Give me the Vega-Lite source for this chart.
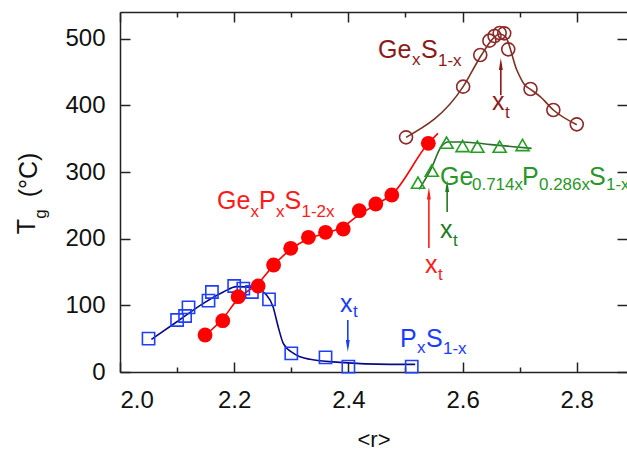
{
  "$schema": "https://vega.github.io/schema/vega-lite/v6.json",
  "width": 507,
  "height": 360,
  "autosize": "none",
  "padding": {"left": 120, "top": 12, "right": 0, "bottom": 80},
  "background": "white",
  "config": {
    "view": {"stroke": null},
    "axis": {"labelFont": "Liberation Sans", "titleFont": "Liberation Sans", "grid": false, "domainColor": "#222", "tickColor": "#222", "labelColor": "#111", "titleColor": "#111", "domainWidth": 1.5, "tickWidth": 1.5},
    "text": {"font": "Liberation Sans"}
  },
  "datasets": {
    "navy": [
      {"r": 2.055, "T": 49}, {"r": 2.099, "T": 75}, {"r": 2.146, "T": 103}, {"r": 2.181, "T": 120},
      {"r": 2.204, "T": 128}, {"r": 2.233, "T": 127}, {"r": 2.257, "T": 115}, {"r": 2.268, "T": 98},
      {"r": 2.277, "T": 68}, {"r": 2.286, "T": 43}, {"r": 2.304, "T": 28}, {"r": 2.333, "T": 19},
      {"r": 2.385, "T": 14.5}, {"r": 2.473, "T": 11.5}, {"r": 2.517, "T": 11.5}
    ],
    "redline": [
      {"r": 2.149, "T": 55}, {"r": 2.18, "T": 80}, {"r": 2.207, "T": 110}, {"r": 2.242, "T": 133},
      {"r": 2.269, "T": 160}, {"r": 2.299, "T": 184}, {"r": 2.33, "T": 200}, {"r": 2.36, "T": 208},
      {"r": 2.391, "T": 218}, {"r": 2.419, "T": 236}, {"r": 2.448, "T": 251}, {"r": 2.476, "T": 266},
      {"r": 2.54, "T": 343}, {"r": 2.557, "T": 358}
    ],
    "greenline": [
      {"r": 2.524, "T": 274}, {"r": 2.545, "T": 305}, {"r": 2.562, "T": 337}, {"r": 2.575, "T": 345},
      {"r": 2.6, "T": 345}, {"r": 2.65, "T": 341}, {"r": 2.721, "T": 335.5}
    ],
    "brownline": [
      {"r": 2.501, "T": 352}, {"r": 2.601, "T": 428}, {"r": 2.632, "T": 474}, {"r": 2.652, "T": 499},
      {"r": 2.665, "T": 507}, {"r": 2.675, "T": 503}, {"r": 2.695, "T": 453}, {"r": 2.709, "T": 430.5},
      {"r": 2.719, "T": 424}, {"r": 2.736, "T": 413}, {"r": 2.759, "T": 393}, {"r": 2.8, "T": 371}
    ],
    "squares": [
      {"r": 2.05, "T": 50}, {"r": 2.1, "T": 78}, {"r": 2.114, "T": 84}, {"r": 2.12, "T": 97},
      {"r": 2.155, "T": 107}, {"r": 2.161, "T": 120}, {"r": 2.2, "T": 129}, {"r": 2.216, "T": 125},
      {"r": 2.231, "T": 120}, {"r": 2.261, "T": 109}, {"r": 2.3, "T": 28}, {"r": 2.36, "T": 22},
      {"r": 2.4, "T": 8}, {"r": 2.511, "T": 8}
    ],
    "redcircles": [
      {"r": 2.149, "T": 55.5}, {"r": 2.18, "T": 77}, {"r": 2.207, "T": 113}, {"r": 2.242, "T": 129},
      {"r": 2.269, "T": 160.5}, {"r": 2.299, "T": 185.5}, {"r": 2.33, "T": 202}, {"r": 2.36, "T": 209.5},
      {"r": 2.391, "T": 214.5}, {"r": 2.419, "T": 242}, {"r": 2.448, "T": 252}, {"r": 2.476, "T": 265.5},
      {"r": 2.54, "T": 343}
    ],
    "triangles": [
      {"r": 2.522, "T": 284}, {"r": 2.546, "T": 302}, {"r": 2.572, "T": 344}, {"r": 2.6, "T": 339},
      {"r": 2.626, "T": 338}, {"r": 2.665, "T": 338}, {"r": 2.705, "T": 340.5}
    ],
    "browncircles": [
      {"r": 2.501, "T": 352}, {"r": 2.601, "T": 428}, {"r": 2.631, "T": 475.5}, {"r": 2.647, "T": 497},
      {"r": 2.656, "T": 504}, {"r": 2.665, "T": 508.5}, {"r": 2.673, "T": 508}, {"r": 2.68, "T": 484},
      {"r": 2.719, "T": 424.5}, {"r": 2.759, "T": 393}, {"r": 2.8, "T": 371.5}
    ],
    "arrows": [
      {"series": "GeS", "r": 2.667, "T": 415, "T2": 462, "dir": "up"},
      {"series": "GePS", "r": 2.541, "T": 186, "T2": 268, "dir": "up"},
      {"series": "GePS2xt", "r": 2.573, "T": 240, "T2": 279, "dir": "up"},
      {"series": "PS", "r": 2.399, "T": 78, "T2": 39, "dir": "down"}
    ],
    "labels": [
      {"text": "Ge", "r": 2.4518, "T": 471, "series": "GeS", "role": "main"},
      {"text": "x", "r": 2.5114, "T": 460.5, "series": "GeS", "role": "sub"},
      {"text": "S", "r": 2.5271, "T": 471, "series": "GeS", "role": "main"},
      {"text": "1-x", "r": 2.5569, "T": 459, "series": "GeS", "role": "sub"},
      {"text": "Ge", "r": 2.1699, "T": 244.5, "series": "GePS", "role": "main"},
      {"text": "x", "r": 2.2285, "T": 232.5, "series": "GePS", "role": "sub"},
      {"text": "P", "r": 2.2434, "T": 244.5, "series": "GePS", "role": "main"},
      {"text": "x", "r": 2.2732, "T": 232.5, "series": "GePS", "role": "sub"},
      {"text": "S", "r": 2.2881, "T": 244.5, "series": "GePS", "role": "main"},
      {"text": "1-2x", "r": 2.3179, "T": 232.5, "series": "GePS", "role": "sub"},
      {"text": "Ge", "r": 2.5604, "T": 280.5, "series": "GePS2", "role": "main"},
      {"text": "0.714x", "r": 2.6165, "T": 273, "series": "GePS2", "role": "sub"},
      {"text": "P", "r": 2.704, "T": 280.5, "series": "GePS2", "role": "main"},
      {"text": "0.286x", "r": 2.7338, "T": 273, "series": "GePS2", "role": "sub"},
      {"text": "S", "r": 2.8214, "T": 280.5, "series": "GePS2", "role": "main"},
      {"text": "1-x", "r": 2.8511, "T": 273, "series": "GePS2", "role": "sub"},
      {"text": "P", "r": 2.4904, "T": 37.5, "series": "PS", "role": "main"},
      {"text": "x", "r": 2.5201, "T": 28.5, "series": "PS", "role": "sub"},
      {"text": "S", "r": 2.5359, "T": 37.5, "series": "PS", "role": "main"},
      {"text": "1-x", "r": 2.5657, "T": 27, "series": "PS", "role": "sub"},
      {"text": "x", "r": 2.6515, "T": 393, "series": "GeS", "role": "main"},
      {"text": "t", "r": 2.6743, "T": 381, "series": "GeS", "role": "sub"},
      {"text": "x", "r": 2.5342, "T": 148.5, "series": "GePS", "role": "main"},
      {"text": "t", "r": 2.5569, "T": 138, "series": "GePS", "role": "sub"},
      {"text": "x", "r": 2.5604, "T": 201, "series": "GePS2xt", "role": "main"},
      {"text": "t", "r": 2.5832, "T": 189, "series": "GePS2xt", "role": "sub"},
      {"text": "x", "r": 2.3853, "T": 90, "series": "PS", "role": "main"},
      {"text": "t", "r": 2.4081, "T": 82.5, "series": "PS", "role": "sub"}
    ],
    "ytitle": [
      {"text": "T", "r": 1.8371, "T": 218, "role": "main"},
      {"text": "g", "r": 1.8616, "T": 237, "role": "sub"},
      {"text": "(°C)", "r": 1.8406, "T": 295.5, "role": "main"}
    ]
  },
  "resolve": {"axis": {"x": "independent", "y": "independent"}},
  "layer": [
    {
      "data": {"name": "navy"},
      "mark": {"type": "line", "interpolate": "monotone", "color": "#0a0a80", "strokeWidth": 1.6},
      "encoding": {
        "x": {"field": "r", "type": "quantitative", "scale": {"domain": [2.0, 2.888], "nice": false, "zero": false},
          "axis": {"orient": "bottom", "values": [2.0, 2.2, 2.4, 2.6, 2.8], "format": ".1f", "tickSize": -10, "labelPadding": 26, "labelFontSize": 24, "title": "<r>", "titleFontSize": 22, "titleFontWeight": "normal", "titlePadding": 17}},
        "y": {"field": "T", "type": "quantitative", "scale": {"domain": [0, 540], "nice": false, "zero": false},
          "axis": {"orient": "left", "values": [0, 100, 200, 300, 400, 500], "tickSize": -10, "labelPadding": 25, "labelFontSize": 24, "title": null}}
      }
    },
    {
      "data": {"name": "redline"},
      "mark": {"type": "line", "interpolate": "monotone", "color": "#ff0000", "strokeWidth": 1.6},
      "encoding": {
        "x": {"field": "r", "type": "quantitative", "scale": {"domain": [2.0, 2.888], "nice": false, "zero": false},
          "axis": {"orient": "bottom", "values": [2.1, 2.3, 2.5, 2.7], "tickSize": -5, "labels": false, "domain": false, "title": null}},
        "y": {"field": "T", "type": "quantitative", "scale": {"domain": [0, 540], "nice": false, "zero": false},
          "axis": {"orient": "right", "values": [0, 100, 200, 300, 400, 500], "tickSize": -10, "labels": false, "domain": false, "title": null}}
      }
    },
    {
      "data": {"name": "greenline"},
      "mark": {"type": "line", "interpolate": "monotone", "color": "#2f6b2f", "strokeWidth": 1.6},
      "encoding": {
        "x": {"field": "r", "type": "quantitative", "scale": {"domain": [2.0, 2.888], "nice": false, "zero": false},
          "axis": {"orient": "top", "values": [2.0, 2.2, 2.4, 2.6, 2.8], "tickSize": -10, "labels": false, "domain": true, "title": null}},
        "y": {"field": "T", "type": "quantitative", "scale": {"domain": [0, 540], "nice": false, "zero": false}, "axis": null}
      }
    },
    {
      "data": {"name": "brownline"},
      "mark": {"type": "line", "interpolate": "monotone", "color": "#7b3322", "strokeWidth": 1.6},
      "encoding": {
        "x": {"field": "r", "type": "quantitative", "scale": {"domain": [2.0, 2.888], "nice": false, "zero": false},
          "axis": {"orient": "top", "values": [2.1, 2.3, 2.5, 2.7], "tickSize": -5, "labels": false, "domain": false, "title": null}},
        "y": {"field": "T", "type": "quantitative", "scale": {"domain": [0, 540], "nice": false, "zero": false}, "axis": null}
      }
    },
    {
      "data": {"name": "squares"},
      "mark": {"type": "point", "shape": "square", "filled": false, "size": 150, "strokeWidth": 1.6, "color": "#1f3fff", "opacity": 1},
      "encoding": {
        "x": {"field": "r", "type": "quantitative", "scale": {"domain": [2.0, 2.888], "nice": false, "zero": false}, "axis": null},
        "y": {"field": "T", "type": "quantitative", "scale": {"domain": [0, 540], "nice": false, "zero": false}, "axis": null}
      }
    },
    {
      "data": {"name": "redcircles"},
      "mark": {"type": "point", "shape": "circle", "filled": true, "size": 220, "color": "#ff0000", "opacity": 1},
      "encoding": {
        "x": {"field": "r", "type": "quantitative", "scale": {"domain": [2.0, 2.888], "nice": false, "zero": false}, "axis": null},
        "y": {"field": "T", "type": "quantitative", "scale": {"domain": [0, 540], "nice": false, "zero": false}, "axis": null}
      }
    },
    {
      "data": {"name": "triangles"},
      "mark": {"type": "point", "shape": "triangle-up", "filled": false, "size": 170, "strokeWidth": 1.6, "color": "#23a023", "opacity": 1},
      "encoding": {
        "x": {"field": "r", "type": "quantitative", "scale": {"domain": [2.0, 2.888], "nice": false, "zero": false}, "axis": null},
        "y": {"field": "T", "type": "quantitative", "scale": {"domain": [0, 540], "nice": false, "zero": false}, "axis": null}
      }
    },
    {
      "data": {"name": "browncircles"},
      "mark": {"type": "point", "shape": "circle", "filled": false, "size": 169, "strokeWidth": 1.6, "color": "#8b2a2a", "opacity": 1},
      "encoding": {
        "x": {"field": "r", "type": "quantitative", "scale": {"domain": [2.0, 2.888], "nice": false, "zero": false}, "axis": null},
        "y": {"field": "T", "type": "quantitative", "scale": {"domain": [0, 540], "nice": false, "zero": false}, "axis": null}
      }
    },
    {
      "data": {"name": "arrows"},
      "mark": {"type": "rule", "strokeWidth": 1.6},
      "encoding": {
        "x": {"field": "r", "type": "quantitative", "scale": {"domain": [2.0, 2.888], "nice": false, "zero": false}, "axis": null},
        "y": {"field": "T", "type": "quantitative", "scale": {"domain": [0, 540], "nice": false, "zero": false}, "axis": null},
        "y2": {"field": "T2"},
        "color": {"field": "series", "type": "nominal", "legend": null,
          "scale": {"domain": ["GeS", "GePS", "GePS2", "PS", "GePS2xt"], "range": ["#8b1a1a", "#ff1a1a", "#2a962a", "#1a3cff", "#1e7a1e"]}}
      }
    },
    {
      "data": {"name": "arrows"},
      "mark": {"type": "point", "filled": true, "size": 150, "opacity": 1, "strokeWidth": 0},
      "encoding": {
        "x": {"field": "r", "type": "quantitative", "scale": {"domain": [2.0, 2.888], "nice": false, "zero": false}, "axis": null},
        "y": {"field": "T2", "type": "quantitative", "scale": {"domain": [0, 540], "nice": false, "zero": false}, "axis": null},
        "shape": {"field": "dir", "type": "nominal", "legend": null,
          "scale": {"domain": ["up", "down"], "range": ["M0,-1L0.32,1L-0.32,1Z", "M0,1L0.32,-1L-0.32,-1Z"]}},
        "color": {"field": "series", "type": "nominal", "legend": null,
          "scale": {"domain": ["GeS", "GePS", "GePS2", "PS", "GePS2xt"], "range": ["#8b1a1a", "#ff1a1a", "#2a962a", "#1a3cff", "#1e7a1e"]}}
      }
    },
    {
      "data": {"name": "labels"},
      "mark": {"type": "text", "align": "left", "baseline": "alphabetic"},
      "encoding": {
        "x": {"field": "r", "type": "quantitative", "scale": {"domain": [2.0, 2.888], "nice": false, "zero": false}, "axis": null},
        "y": {"field": "T", "type": "quantitative", "scale": {"domain": [0, 540], "nice": false, "zero": false}, "axis": null},
        "text": {"field": "text"},
        "size": {"field": "role", "type": "nominal", "legend": null, "scale": {"domain": ["main", "sub"], "range": [25, 17]}},
        "color": {"field": "series", "type": "nominal", "legend": null,
          "scale": {"domain": ["GeS", "GePS", "GePS2", "PS", "GePS2xt"], "range": ["#8b1a1a", "#ff1a1a", "#2a962a", "#1a3cff", "#1e7a1e"]}}
      }
    },
    {
      "data": {"name": "ytitle"},
      "mark": {"type": "text", "align": "center", "baseline": "middle", "angle": 270, "color": "#111"},
      "encoding": {
        "x": {"field": "r", "type": "quantitative", "scale": {"domain": [2.0, 2.888], "nice": false, "zero": false}, "axis": null},
        "y": {"field": "T", "type": "quantitative", "scale": {"domain": [0, 540], "nice": false, "zero": false}, "axis": null},
        "text": {"field": "text"},
        "size": {"field": "role", "type": "nominal", "legend": null, "scale": {"domain": ["main", "sub"], "range": [26, 17]}}
      }
    }
  ]
}
